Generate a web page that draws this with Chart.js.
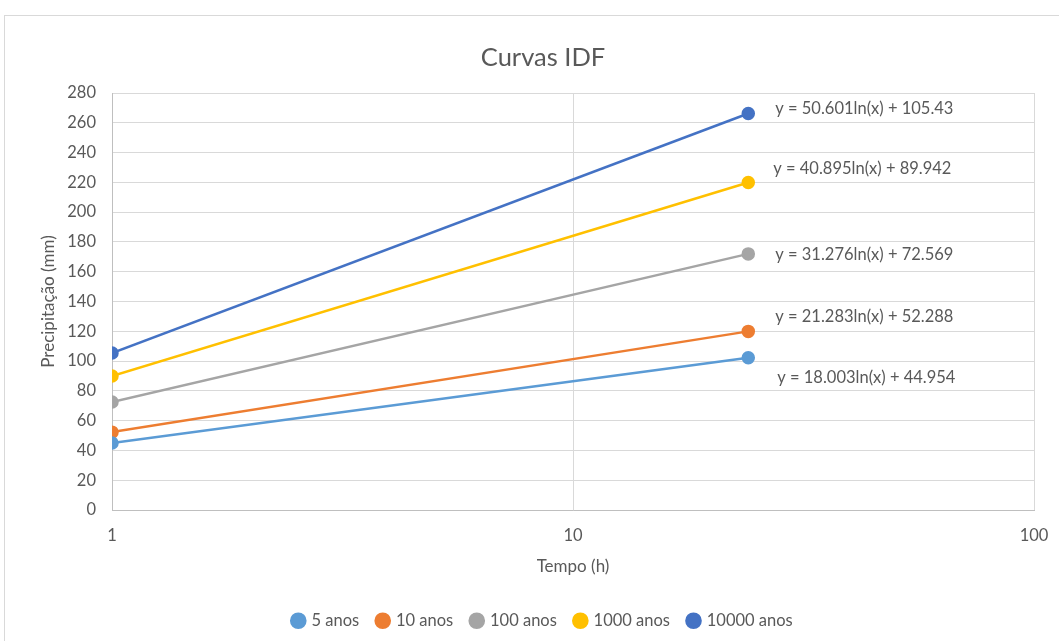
<!DOCTYPE html>
<html>
<head>
<meta charset="utf-8">
<script src="https://cdn.jsdelivr.net/npm/chart.js@4/dist/chart.umd.min.js"></script>
<style>
  html, body { margin: 0; padding: 0; background: #ffffff; }
  #frame {
    position: absolute; left: 4px; top: 15px; width: 1100px; height: 700px;
    border-left: 1px solid #d9d9d9; border-top: 1px solid #d9d9d9;
  }
  #wrap { position: absolute; left: 0; top: 0; width: 1059px; height: 641px; }
</style>
</head>
<body>
<div id="frame"></div>
<div id="wrap"><canvas id="c" width="1059" height="641"></canvas></div>
<script>
// Durations (h) and rainfall depths (mm) for each return period
const durations = [1, 24];
const seriesNames = ['5 anos', '10 anos', '100 anos', '1000 anos', '10000 anos'];
const rain5 = [44.95, 102.17];
const rain10 = [52.29, 119.93];
const rain100 = [72.57, 171.97];
const rain1000 = [89.94, 219.91];
const rain10000 = [105.43, 266.24];

// Logarithmic trendline coefficients: y = a ln(x) + b
const slopes = [18.003, 21.283, 31.276, 40.895, 50.601];
const intercepts = [44.954, 52.288, 72.569, 89.942, 105.43];

// Axis ticks
const xTickValues = [1, 10, 100];
const yTickStep = 20;

const chartTitle = 'Curvas IDF';
const colors = ['#5b9bd5', '#ed7d31', '#a5a5a5', '#ffc000', '#4472c4'];
// Trendline label placement relative to the last point (px)
const labelOffsets = [[29, 20], [27, -15], [27, 1], [25, -14], [27, -5]];

const allSeries = [rain5, rain10, rain100, rain1000, rain10000];
const textColor = '#595959';
const fontFamily = 'Lato, "Open Sans", sans-serif';

const datasets = allSeries.map((vals, i) => ({
  label: seriesNames[i],
  data: durations.map((d, k) => ({ x: d, y: vals[k] })),
  borderColor: colors[i],
  backgroundColor: colors[i],
  pointBackgroundColor: colors[i],
  pointBorderColor: colors[i],
  borderWidth: 2.5,
  pointRadius: 5.5,
  pointHoverRadius: 5.5,
  showLine: true,
  tension: 0
}));

const eqLabels = slopes.map((a, i) => 'y = ' + String(a) + 'ln(x) + ' + String(intercepts[i]));

// Equation text beside each trendline end, plus the chart heading
const trendLabels = {
  id: 'trendLabels',
  afterLayout(chart) {
    // centre the legend row under the heading rather than the canvas
    if (chart.legend) {
      chart.legend.left += 21;
      chart.legend.right += 21;
    }
  },
  afterDatasetsDraw(chart) {
    const ctx = chart.ctx;
    ctx.save();
    ctx.font = '16.5px ' + fontFamily;
    ctx.fillStyle = textColor;
    ctx.textAlign = 'left';
    ctx.textBaseline = 'middle';
    chart.data.datasets.forEach((ds, i) => {
      const meta = chart.getDatasetMeta(i);
      const pt = meta.data[meta.data.length - 1];
      ctx.fillText(eqLabels[i], pt.x + labelOffsets[i][0], pt.y + labelOffsets[i][1]);
    });
    ctx.font = '25.5px ' + fontFamily;
    ctx.textAlign = 'center';
    ctx.fillText(chartTitle, 543, 58);
    ctx.restore();
  }
};

new Chart(document.getElementById('c'), {
  type: 'scatter',
  data: { datasets },
  options: {
    responsive: false,
    animation: false,
    events: [],
    layout: { padding: { left: 10, right: 25, top: 93, bottom: 2 } },
    plugins: {
      title: { display: false },
      legend: {
        position: 'bottom',
        labels: {
          color: textColor,
          font: { family: fontFamily, size: 16.5 },
          usePointStyle: true,
          pointStyle: 'circle',
          boxWidth: 10,
          boxHeight: 10,
          padding: 18.5
        }
      },
      tooltip: { enabled: false }
    },
    scales: {
      x: {
        type: 'logarithmic',
        min: 1,
        max: 100,
        afterBuildTicks: (s) => { s.ticks = xTickValues.map(v => ({ value: v })); },
        afterFit: (s) => { s.height = 84; s.paddingLeft = 0; s.paddingRight = 0; },
        ticks: {
          color: textColor,
          font: { family: fontFamily, size: 16.5 },
          padding: 16,
          maxRotation: 0,
          callback: (v) => String(v)
        },
        grid: { color: '#d9d9d9', lineWidth: 1, drawTicks: false },
        border: { color: '#bfbfbf', width: 1 },
        title: {
          display: true,
          text: 'Tempo (h)',
          color: textColor,
          font: { family: fontFamily, size: 17 },
          padding: { top: 8, bottom: 17 }
        }
      },
      y: {
        min: 0,
        max: 280,
        afterFit: (s) => { s.width = 102; s.paddingTop = 0; s.paddingBottom = 0; },
        ticks: {
          stepSize: yTickStep,
          color: textColor,
          font: { family: fontFamily, size: 16.5 },
          padding: 16
        },
        grid: { color: '#d9d9d9', lineWidth: 1, drawTicks: false },
        border: { color: '#bfbfbf', width: 1 },
        title: {
          display: true,
          text: 'Precipitação (mm)',
          color: textColor,
          font: { family: fontFamily, size: 17 },
          padding: { top: 28, bottom: 0 }
        }
      }
    }
  },
  plugins: [trendLabels]
});
</script>
</body>
</html>
